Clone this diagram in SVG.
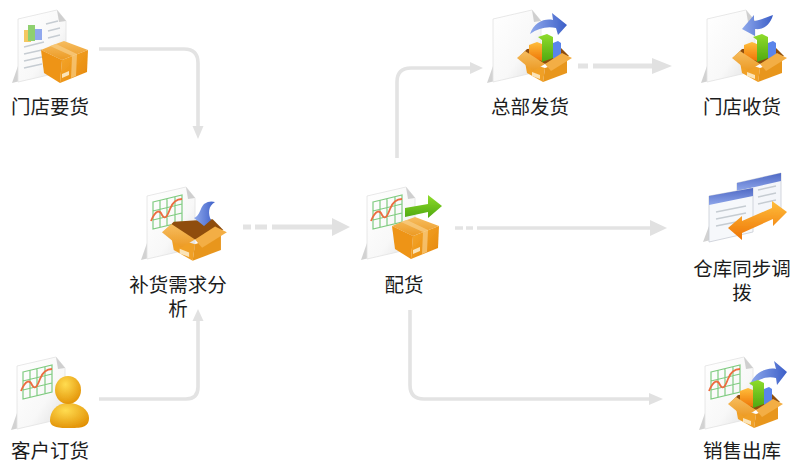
<svg xmlns="http://www.w3.org/2000/svg" width="791" height="463" viewBox="0 0 791 463">
<style>
text{font-family:"Noto Sans CJK SC","Liberation Sans",sans-serif;font-size:19.500px;fill:#1c1c1c;text-anchor:middle}
.line{fill:none;stroke:#e3e3e3;stroke-width:3.600}
.thick{stroke-width:5}
.head{fill:#e1e1e1}
.barline{fill:none;stroke:#c6ccd2;stroke-width:1.400}
.grid{fill:none;stroke:#7fcb80;stroke-width:1.200}
.ic{filter:url(#soft)}
</style>
<defs>
<filter id="soft" x="-5%" y="-5%" width="110%" height="110%"><feGaussianBlur stdDeviation="0.350"/></filter>
<linearGradient id="paper" x1="0" y1="0" x2="1" y2="1"><stop offset="0" stop-color="#ffffff"/><stop offset="0.6" stop-color="#f8f8f8"/><stop offset="1" stop-color="#dedede"/></linearGradient>
<linearGradient id="boxL" x1="0" y1="0" x2="1" y2="1"><stop offset="0" stop-color="#f6a92e"/><stop offset="1" stop-color="#e58608"/></linearGradient>
<linearGradient id="boxT" x1="0" y1="0" x2="0" y2="1"><stop offset="0" stop-color="#f6bd60"/><stop offset="1" stop-color="#ec9a24"/></linearGradient>
<linearGradient id="blueA" x1="0" y1="0" x2="1" y2="0"><stop offset="0" stop-color="#8fa9ec"/><stop offset="1" stop-color="#3d5fc8"/></linearGradient>
<linearGradient id="greenA" x1="0" y1="0" x2="0" y2="1"><stop offset="0" stop-color="#8fdc2c"/><stop offset="1" stop-color="#4fa810"/></linearGradient>
<linearGradient id="org" x1="0" y1="0" x2="0" y2="1"><stop offset="0" stop-color="#ffbe3c"/><stop offset="1" stop-color="#ee7406"/></linearGradient>
<radialGradient id="person" cx="0.4" cy="0.3" r="0.8"><stop offset="0" stop-color="#ffdc50"/><stop offset="1" stop-color="#e08c00"/></radialGradient>
<linearGradient id="hdr" x1="0" y1="0" x2="0" y2="1"><stop offset="0" stop-color="#4e68c4"/><stop offset="1" stop-color="#8ea6ea"/></linearGradient>
<g id="doc">
<path d="M12 83 L18 66 L32 78Z" fill="#d2d2d2"/>
<path d="M18 19 L57 10 L66 21 L66 71 L18 82Z" fill="url(#paper)" stroke="#e2e2e2" stroke-width="0.800"/>
<path d="M57 10 L66 21 L59 22Z" fill="#cfcfcf"/>
</g>
<g id="chart">
<path class="grid" d="M24 25 L53 18 L53 45 L24 52Z M31 23 L31 51 M38 22 L38 49 M46 20 L46 47 M24 34 L53 27 M24 43 L53 36"/>
<path d="M22 44 C27 32 31 33 33 38 C36 43 38 40 41 32 C44 24 48 22 53 22" fill="none" stroke="#ec6c40" stroke-width="1.800"/>
</g>
<g id="box">
<path d="M41 50 Q52 45 64 41 L88 50 L62 60Z" fill="url(#boxT)"/>
<path d="M41 50 L62 60 L60 83 L44 73Z" fill="#ee9414"/>
<path d="M62 60 L88 50 L87 72 L60 83Z" fill="url(#boxL)"/>
<path d="M50 46 L72 56 L71 78 L76 76 L77 54 L56 44Z" fill="#f8cf88" opacity="0.700"/>
<path d="M62 74 L69 71 L69 75 L62 78Z" fill="#fbe4b8"/>
</g>
<g id="obBack">
<path d="M52 49 L85 47 L94 56 L70 64 L45 56Z" fill="#8f4e0a"/>
</g>
<g id="obFront">
<path d="M50 62 L70 68 L68 82 L52 73Z" fill="#f0a028"/>
<path d="M70 68 L92 60 L92 73 L68 82Z" fill="#e8961e"/>
<path d="M42 58 L50 51 L70 64 L58 71Z" fill="url(#boxT)"/>
<path d="M70 64 L87 53 L97 58 L76 71Z" fill="#f3ae44"/>
<path d="M57 72 L65 75 L65 79 L57 76Z" fill="#fbe4b8"/>
</g>
<g id="bars">
<path d="M54 45 L62 42 L67 44 V61 L54 57Z" fill="url(#org)"/>
<path d="M63 37 L72 34 L78 37 V58 L67 62 V40Z" fill="url(#greenA)"/>
<path d="M78 43 L83 41 L86 43 V55 L78 59Z" fill="#5a84ea"/>
</g>
</defs>

<g id="connectors">
<path class="line" d="M99 49 H184 Q198 49 198 63 V127"/>
<path class="head" d="M192.500 126 H203.500 L198 139Z"/>
<path class="line" d="M99 399 H186 Q198 399 198 387 V320"/>
<path class="head" d="M192.500 321 H203.500 L198 309Z"/>
<path class="line thick" d="M243 227 H251 M255 227 H267 M272 227 H334"/>
<path class="head" d="M332 218 L350 227 L332 236Z"/>
<path class="line" d="M455 228 H463 M466 228 H473 M477 228 H652"/>
<path class="head" d="M650 220 L667 228 L650 236Z"/>
<path class="line" d="M397 158 V82 Q397 68 411 68 H472"/>
<path class="head" d="M470 62 L483 68 L470 74Z"/>
<path class="line thick" d="M578 66 H588 M593 66 H655"/>
<path class="head" d="M652 58 L672 66 L652 74Z"/>
<path class="line" d="M410 310 V385 Q410 399 424 399 H651"/>
<path class="head" d="M649 393 L663 399 L649 405Z"/>
</g>

<g id="node-store-request">
<g class="ic">
<use href="#doc"/>
<path class="barline" d="M24 47 L44 42 M24 54 L42 50 M24 61 L42 57 M24 68 L42 64 M46 24 L58 21 M48 31 L60 28 M48 38 L60 35"/>
<rect x="24" y="30" width="7" height="12" fill="#f4c860"/><rect x="28" y="25" width="7" height="16" fill="#8fd070"/><rect x="35" y="29" width="7" height="11" fill="#90a8ee"/>
<use href="#box"/>
</g>
<text x="50" y="114">门店要货</text>
</g>

<g id="node-customer-order">
<g class="ic">
<use href="#doc" transform="translate(-1 347)"/>
<use href="#chart" transform="translate(-1 347)"/>
<path d="M68 403 C56 403 50 412 50 420 C50 428 60 428 69 428 C80 428 89 428 89 418 C89 410 80 403 68 403Z" fill="url(#person)"/>
<ellipse cx="68" cy="390" rx="13" ry="14" fill="url(#person)"/>
</g>
<text x="50" y="458">客户订货</text>
</g>

<g id="node-replenish-analysis">
<g class="ic">
<use href="#doc" transform="translate(129 177)"/>
<use href="#chart" transform="translate(129 177)"/>
<use href="#obBack" transform="translate(112.400 163.900) scale(1.180)"/>
<path d="M194 218 C200 216 200 208 204 204 C208 201 212 201 215 202 C208 206 208 214 211 220 L204 226Z" fill="url(#blueA)"/>
<use href="#obFront" transform="translate(112.400 163.900) scale(1.180)"/>
</g>
<text x="178" y="292">补货需求分<tspan x="178" dy="24">析</tspan></text>
</g>

<g id="node-allocate">
<g class="ic">
<use href="#doc" transform="translate(349 177)"/>
<use href="#chart" transform="translate(349 177)"/>
<path d="M405 208 L428 204 V195 L442 206 L428 218 V212 L405 217Z" fill="url(#greenA)"/>
<use href="#box" transform="translate(351 176)"/>
</g>
<text x="404" y="292">配货</text>
</g>

<g id="node-hq-ship">
<g class="ic">
<use href="#doc" transform="translate(475 0)"/>
<path d="M530 34 C534 22 545 18 553 20 L552 13 L567 25 L558 35 L556 28 C548 26 538 28 530 34Z" fill="url(#blueA)"/>
<g transform="translate(475 0)"><use href="#obBack"/><use href="#bars"/><use href="#obFront"/></g>
</g>
<text x="530" y="114">总部发货</text>
</g>

<g id="node-store-receive">
<g class="ic">
<use href="#doc" transform="translate(689 0)"/>
<path d="M742 29 L754 15 V21 C760 20 768 17 773 15 C770 26 762 30 755 29 V36Z" fill="url(#blueA)"/>
<g transform="translate(690 0)"><use href="#obBack"/><use href="#bars"/><use href="#obFront"/></g>
</g>
<text x="742" y="114">门店收货</text>
</g>

<g id="node-warehouse-transfer">
<g class="ic">
<path d="M703 242 L709 226 L722 237Z" fill="#d2d2d2"/>
<path d="M737 183 L781 173 V215 L737 225Z" fill="#f4f6fa" stroke="#c8ccd4" stroke-width="0.800"/>
<path d="M737 183 L781 173 V181 L737 191Z" fill="url(#hdr)"/>
<path d="M709 196 L753 188 V232 L709 242Z" fill="#f6f8fb" stroke="#c8ccd4" stroke-width="0.800"/>
<path d="M709 196 L753 188 V196 L709 205Z" fill="url(#hdr)"/>
<path class="barline" d="M716 212 L746 206 M716 219 L746 213 M716 226 L736 222 M758 190 L776 186 M758 197 L776 193 M758 204 L776 200"/>
<path d="M728 228 L742 216 V221 L772 208 V201 L787 212 L773 226 V219 L742 233 V240Z" fill="url(#org)"/>
</g>
<text x="742" y="276">仓库同步调<tspan x="742" dy="24">拨</tspan></text>
</g>

<g id="node-sales-out">
<g class="ic">
<use href="#doc" transform="translate(687 347)"/>
<use href="#chart" transform="translate(687 347)"/>
<path d="M750 385 C754 372 768 367 776 369 L774 361 L787 372 L777 385 L776 378 C768 376 760 378 750 385Z" fill="url(#blueA)"/>
<g transform="translate(686 346)"><use href="#obBack"/><use href="#bars"/><use href="#obFront"/></g>
</g>
<text x="742" y="458">销售出库</text>
</g>
</svg>
